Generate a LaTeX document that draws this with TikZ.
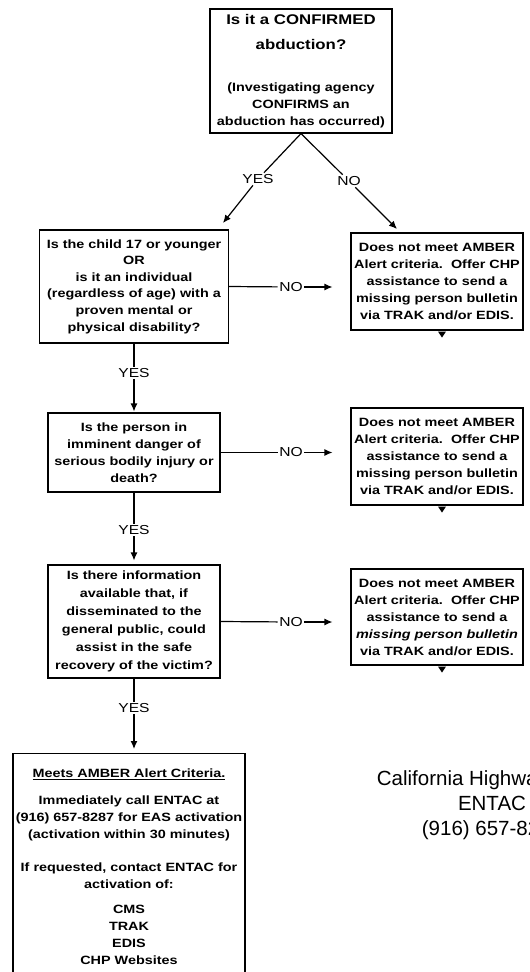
\documentclass[tikz,border=0pt]{standalone}
\usepackage{fontspec}
\usepackage{tikz}
\usetikzlibrary{arrows.meta,calc}
\newfontfamily\boxfont{Liberation Sans}[FakeStretch=1.2]
\newfontfamily\plainfont{Liberation Sans}
\newcommand{\headline}{\fontsize{14}{25}\selectfont}
\tikzset{
    qbox/.style={draw, line width=1.1pt, align=center, inner sep=0pt, font=\boxfont\bfseries\fontsize{12}{17}\selectfont},
    ansbox/.style={qbox, minimum width=172pt, minimum height=97pt},
    lbl/.style={inner sep=1.5pt, font=\boxfont\fontsize{13}{13}\selectfont},
    link/.style={line width=1.2pt},
    arr/.style={link, -{Latex[length=8pt,width=7pt]}}
}

\begin{document}
\begin{tikzpicture}[x=1pt, y=-1pt]
    \useasboundingbox (0,0) rectangle (530,972);
    \clip (0,0) rectangle (530,972);

    \node[qbox, minimum width=182pt, minimum height=124pt] (conf) at (301,71) {{\headline Is it a CONFIRMED}\\[8pt]{\headline abduction?}\\[25pt](Investigating agency\\CONFIRMS an\\abduction has occurred)};

    \node[qbox, minimum width=189pt, minimum height=113pt, font=\boxfont\bfseries\fontsize{12}{16.6}\selectfont] (child) at (134,286.5) {Is the child 17 or younger\\OR\\is it an individual\\(regardless of age) with a\\proven mental or\\physical disability?};
    \node[qbox, minimum width=172pt, minimum height=79pt] (danger) at (134,452.5) {Is the person in\\imminent danger of\\serious bodily injury or\\death?};
    \node[qbox, minimum width=172pt, minimum height=113pt, font=\boxfont\bfseries\fontsize{12}{18}\selectfont] (info) at (134,621.5) {Is there information\\available that, if\\disseminated to the\\general public, could\\assist in the safe\\recovery of the victim?};
    \node[qbox, anchor=north, minimum width=232pt, inner ysep=15pt] (meets) at (129,753) {\underline{Meets AMBER Alert Criteria.}\\[10pt]Immediately call ENTAC at\\(916) 657-8287 for EAS activation\\(activation within 30 minutes)\\[16pt]If requested, contact ENTAC for\\activation of:\\[8pt]CMS\\TRAK\\EDIS\\CHP Websites};

    \node[ansbox] (r1) at (437,281.5) {Does not meet AMBER\\Alert criteria.\ \ Offer CHP\\assistance to send a\\missing person bulletin\\via TRAK and/or EDIS.};
    \node[ansbox] (r2) at (437,456.5) {Does not meet AMBER\\Alert criteria.\ \ Offer CHP\\assistance to send a\\missing person bulletin\\via TRAK and/or EDIS.};
    \node[ansbox, minimum height=96pt] (r3) at (437,617) {Does not meet AMBER\\Alert criteria.\ \ Offer CHP\\assistance to send a\\\textit{missing person bulletin}\\via TRAK and/or EDIS.};

    \node[font=\plainfont\fontsize{20.5}{25}\selectfont, align=center, inner sep=0pt] (chp) at (492,805) {California Highway Patrol\\ENTAC\\(916) 657-8287};

    \node[lbl] (yes0) at (258,179) {YES};
    \node[lbl] (no0) at (349,181) {NO};
    \coordinate (yesend) at (223,223);
    \coordinate (noend) at (397,229);
    \node[lbl] (no1) at (291,287) {NO};
    \node[lbl] (no2) at (291,452.5) {NO};
    \node[lbl] (no3) at (291,622) {NO};
    \node[lbl] (yes1) at (134,373) {YES};
    \node[lbl] (yes2) at (134,530) {YES};
    \node[lbl] (yes3) at (134,708) {YES};

    \draw[link] (conf.south) -- (yes0);
    \draw[arr] (yes0) -- (yesend);
    \draw[link] (conf.south) -- (no0);
    \draw[arr] (no0) -- (noend);

    \draw[link] (child.east) -- (no1);
    \draw[arr, shorten >=18pt] (no1) -- (no1 -| r1.west);
    \draw[link] (danger.east) -- (no2);
    \draw[arr, shorten >=18pt] (no2) -- (no2 -| r2.west);
    \draw[link] (info.east) -- (no3);
    \draw[arr, shorten >=18pt] (no3) -- (no3 -| r3.west);

    \draw[link] (child.south) -- (yes1);
    \draw[arr, shorten >=1pt] (yes1) -- (danger.north);
    \draw[link] (danger.south) -- (yes2);
    \draw[arr, shorten >=4pt] (yes2) -- (info.north);
    \draw[link] (info.south) -- (yes3);
    \draw[arr, shorten >=4pt] (yes3) -- (yes3 |- meets.north);

    \foreach \b in {r1,r2,r3}
        \fill ($(\b.south)+(1,1)$) -- ++(8,0) -- ++(-4,6) -- cycle;
\end{tikzpicture}
\end{document}
